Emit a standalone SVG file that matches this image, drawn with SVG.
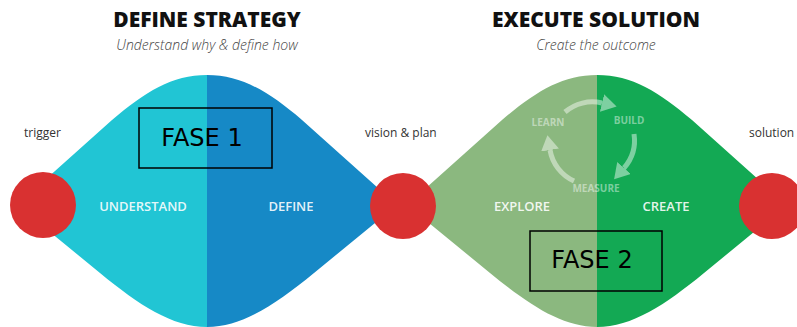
<svg xmlns="http://www.w3.org/2000/svg" width="797" height="327" viewBox="0 0 797 327">
<style>
.title{font-family:"Open Sans","Liberation Sans",sans-serif;font-weight:800;font-size:21px;fill:#111;text-anchor:middle}
.sub{font-family:"Open Sans","Liberation Sans",sans-serif;font-style:italic;font-weight:300;font-size:14px;fill:#444;text-anchor:middle}
.lbl{font-family:"Open Sans","Liberation Sans",sans-serif;font-size:12px;fill:#333}
.in{font-family:"Open Sans","Liberation Sans",sans-serif;font-weight:600;font-size:13px;fill:#fff;fill-opacity:0.9;text-anchor:middle}
.cyc{font-family:"Open Sans","Liberation Sans",sans-serif;font-weight:700;font-size:10px;fill:#fff;fill-opacity:0.45;text-anchor:middle}
.fase{font-family:"DejaVu Sans",sans-serif;font-size:24px;fill:#000;text-anchor:middle}
.box{fill:none;stroke:#000;stroke-width:1.5}
.arc{fill:none;stroke:#fff;stroke-opacity:0.45;stroke-width:5}
.node{fill:#D93131}
</style>
<defs>
<path id="shape" d="M -190 205 L -95 120 C -62 92 -35 75 0 75 C 35 75 62 92 95 120 L 190 205 L 107 273 C 68 305 35 327 0 327 C -35 327 -68 305 -107 273 Z"/>
<clipPath id="lh"><rect x="-300" y="0" width="300" height="327"/></clipPath>
<clipPath id="rh"><rect x="0" y="0" width="300" height="327"/></clipPath>
<marker id="ah" markerUnits="userSpaceOnUse" markerWidth="16" markerHeight="18" refX="0" refY="9" orient="auto" viewBox="0 0 16 18">
<path d="M0 0 L15 9 L0 18 Z" fill="#fff" fill-opacity="0.45"/>
</marker>
</defs>

<g id="phase1" transform="translate(207,0)">
<use href="#shape" fill="#21C5D4" clip-path="url(#lh)"/>
<use href="#shape" fill="#1689C6" clip-path="url(#rh)"/>
</g>
<g id="phase2" transform="translate(597,0)">
<use href="#shape" fill="#8BB87F" clip-path="url(#lh)"/>
<use href="#shape" fill="#13A954" clip-path="url(#rh)"/>
</g>

<g id="headers">
<text class="title" x="207" y="27">DEFINE STRATEGY</text>
<text class="sub" x="207" y="50">Understand why &amp; define how</text>
<text class="title" x="596" y="27">EXECUTE SOLUTION</text>
<text class="sub" x="596" y="50">Create the outcome</text>
</g>

<g id="trigger"><circle class="node" cx="43" cy="205" r="33"/><text class="lbl" x="24" y="137">trigger</text></g>
<g id="vision"><circle class="node" cx="403" cy="206" r="33"/><text class="lbl" x="365" y="137">vision &amp; plan</text></g>
<g id="solution"><circle class="node" cx="772" cy="206" r="33"/><text class="lbl" x="749" y="137">solution</text></g>

<g id="understand"><text class="in" x="143" y="211">UNDERSTAND</text></g>
<g id="define"><text class="in" x="291" y="211">DEFINE</text></g>
<g id="explore"><text class="in" x="522" y="211">EXPLORE</text></g>
<g id="create"><text class="in" x="666" y="211">CREATE</text></g>

<g id="cycle-labels">
<text class="cyc" x="548" y="126">LEARN</text>
<text class="cyc" x="629" y="124">BUILD</text>
<text class="cyc" x="596" y="192">MEASURE</text>
</g>

<g id="connectors">
<path class="arc" d="M 565 112 A 42 42 0 0 1 602 103" marker-end="url(#ah)"/>
<path class="arc" d="M 634 134 A 42 42 0 0 1 624 168" marker-end="url(#ah)"/>
<path class="arc" d="M 574 181 A 42 42 0 0 1 550 150" marker-end="url(#ah)"/>
</g>

<g id="fase1"><rect class="box" x="139" y="108" width="133" height="60"/><text class="fase" x="202" y="146">FASE 1</text></g>
<g id="fase2"><rect class="box" x="530" y="231" width="132" height="60"/><text class="fase" x="592" y="268">FASE 2</text></g>
</svg>
